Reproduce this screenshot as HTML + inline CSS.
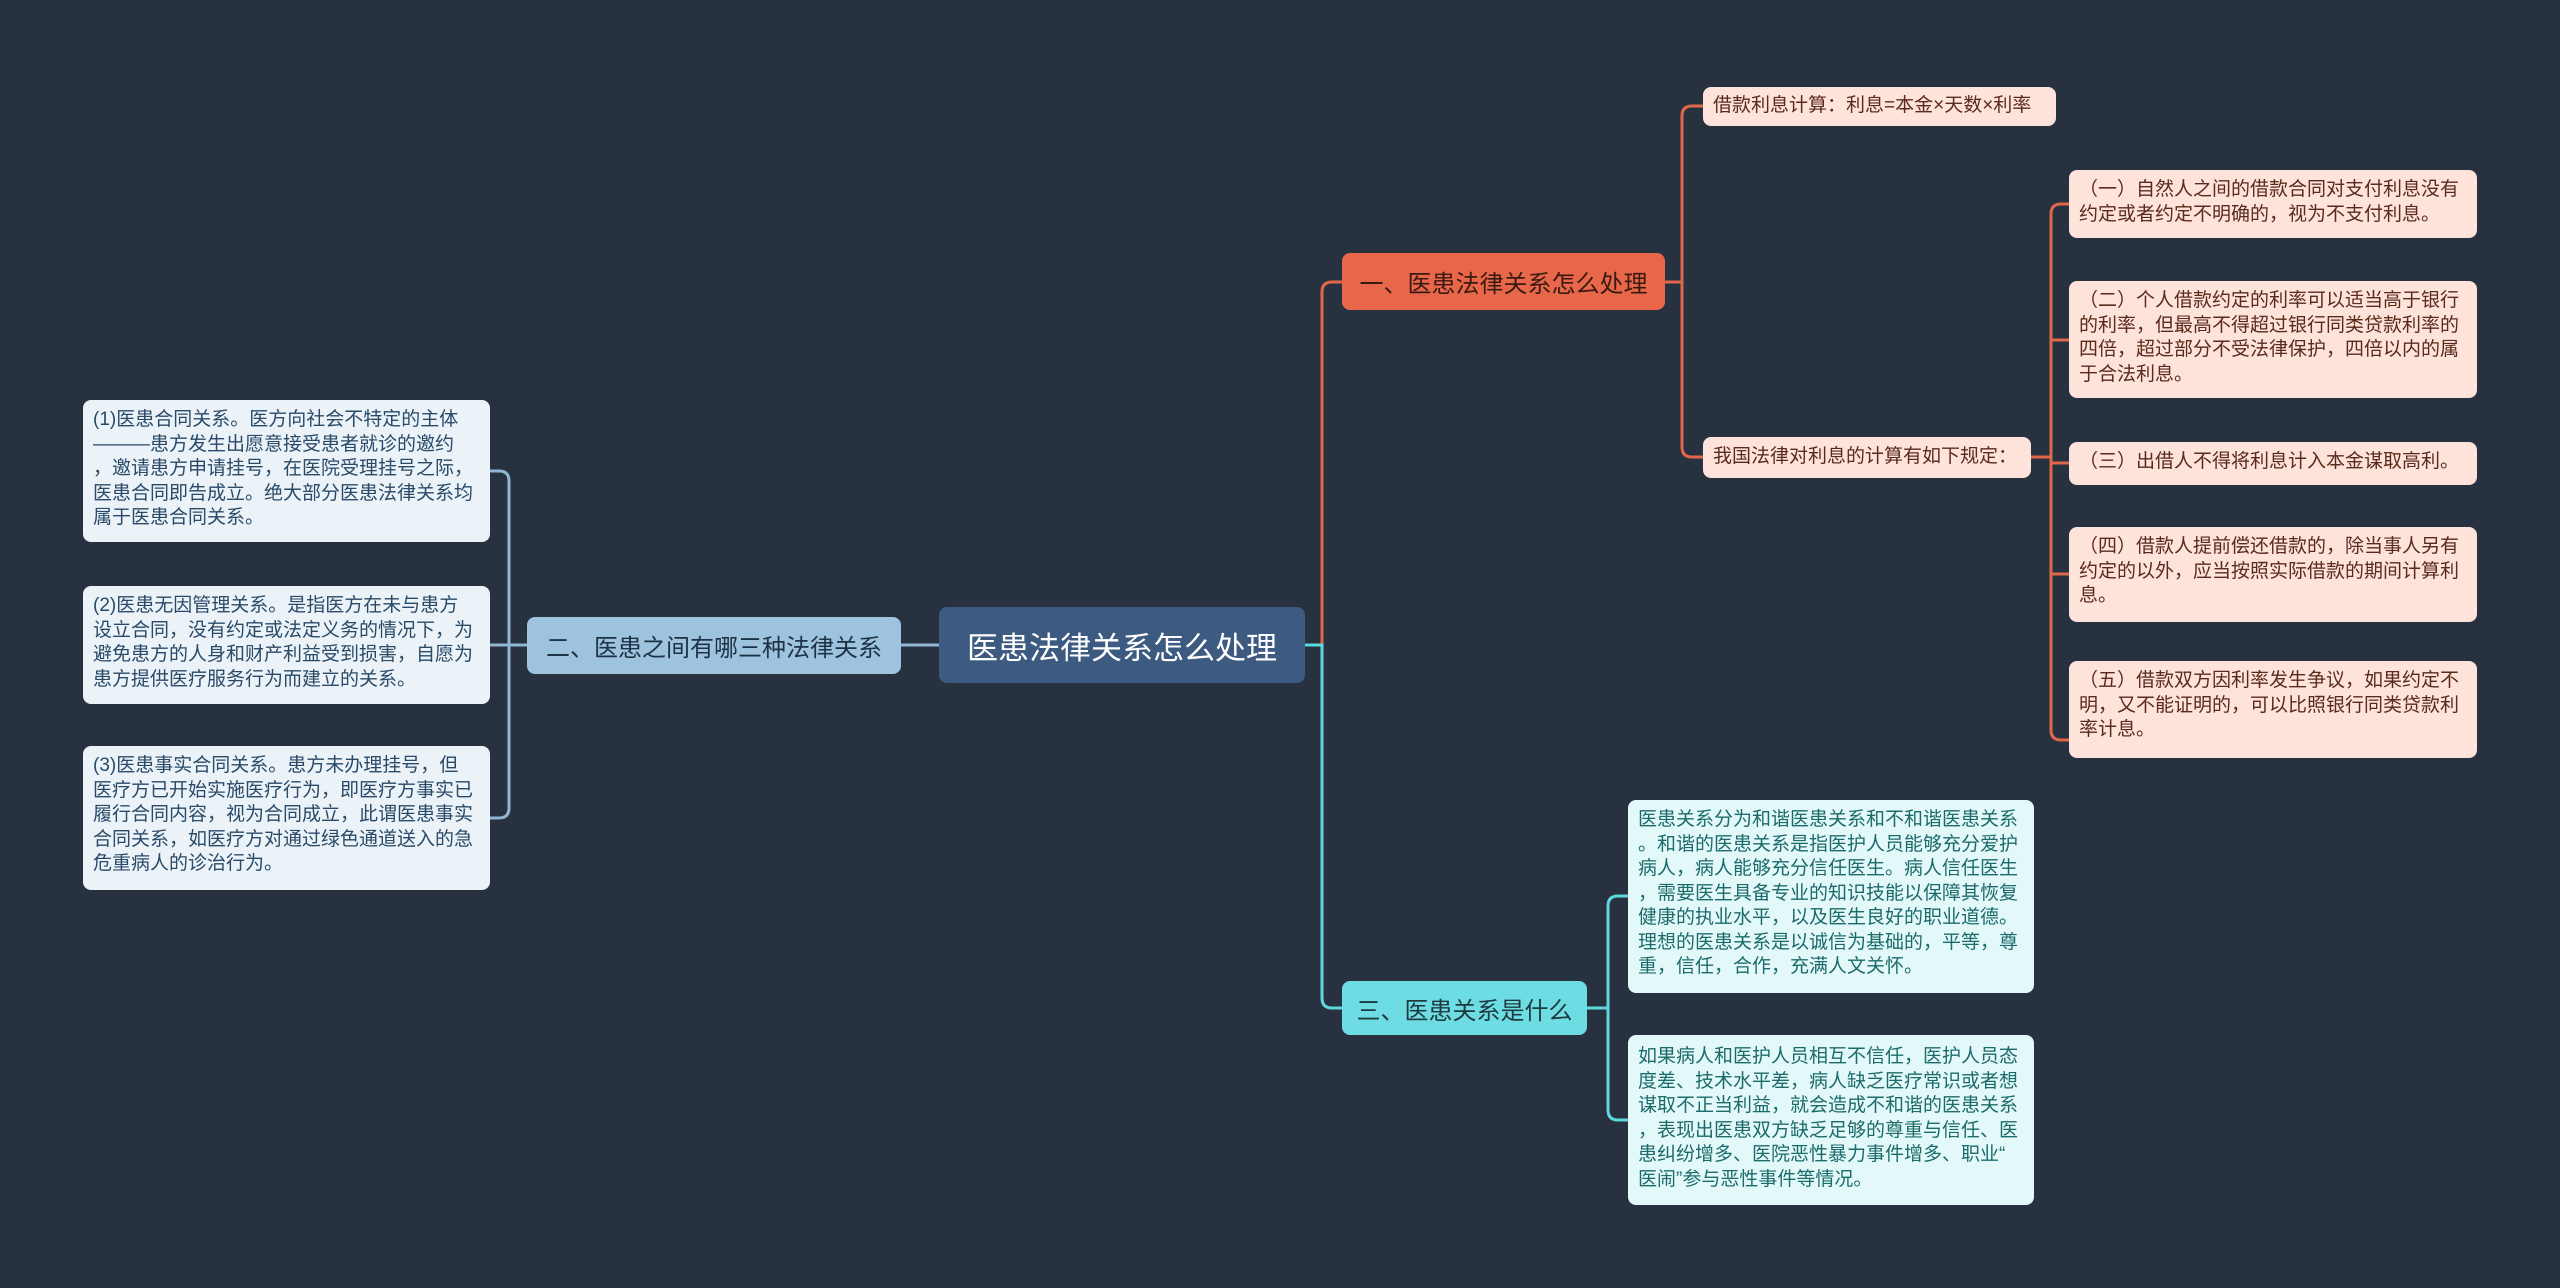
<!DOCTYPE html>
<html><head><meta charset="utf-8"><style>
html,body{margin:0;padding:0;background:#283140;}
body{width:2560px;height:1288px;position:relative;overflow:hidden;font-family:"Liberation Sans","Noto Sans CJK SC",sans-serif;}
.n{position:absolute;box-sizing:border-box;border-radius:8px;white-space:nowrap;}
.s{font-size:19px;line-height:24.5px;padding:8px 10px;}
.o{background:#fde3da;color:#5b2a1c;}
.b{background:#ebf3f9;color:#2a4a68;}
.c{background:#e3f8f9;color:#1c6b6b;}
.br{font-size:24px;display:flex;align-items:center;justify-content:center;}
svg{position:absolute;left:0;top:0;}
</style></head><body>
<svg width="2560" height="1288" fill="none" stroke-width="3">
<g stroke="#e0674a">
<path d="M1305,645 H1322 V292 Q1322,282 1332,282 H1342"/>
<path d="M1665,282 H1682 V116 Q1682,106 1692,106 H1703"/>
<path d="M1682,282 V447 Q1682,457 1692,457 H1703"/>
<path d="M2031,457 H2051"/>
<path d="M2051,214 Q2051,204 2061,204 H2069 M2051,214 V730 Q2051,740 2061,740 H2069"/>
<path d="M2051,340 H2069 M2051,463 H2069 M2051,574 H2069"/>
</g>
<g stroke="#8fb7d4">
<path d="M939,645 H901"/>
<path d="M527,645 H509"/>
<path d="M490,471 H499 Q509,471 509,481 V808 Q509,818 499,818 H490"/>
<path d="M490,645 H509"/>
</g>
<g stroke="#5ed6de">
<path d="M1305,645 H1322 V998 Q1322,1008 1332,1008 H1342"/>
<path d="M1587,1008 H1608"/>
<path d="M1628,896 H1618 Q1608,896 1608,906 V1110 Q1608,1120 1618,1120 H1628"/>
</g>
</svg>
<div class="n br" style="left:939px;top:607px;width:366px;height:76px;background:#3d5a80;color:#fff;font-size:31px;">医患法律关系怎么处理</div>
<div class="n br" style="left:1342px;top:253px;width:323px;height:57px;background:#e8674a;color:#3a1a10;">一、医患法律关系怎么处理</div>
<div class="n br" style="left:527px;top:617px;width:374px;height:57px;background:#9dc3de;color:#1e3246;">二、医患之间有哪三种法律关系</div>
<div class="n br" style="left:1342px;top:981px;width:245px;height:54px;background:#6ddde3;color:#1e3a40;">三、医患关系是什么</div>

<div class="n s o" style="left:1703px;top:87px;width:353px;height:39px;padding-top:7px;">借款利息计算：利息=本金×天数×利率</div>
<div class="n s o" style="left:1703px;top:437px;width:328px;height:41px;">我国法律对利息的计算有如下规定：</div>
<div class="n s o" style="left:2069px;top:170px;width:408px;height:68px;">（一）自然人之间的借款合同对支付利息没有<br>约定或者约定不明确的，视为不支付利息。</div>
<div class="n s o" style="left:2069px;top:281px;width:408px;height:117px;">（二）个人借款约定的利率可以适当高于银行<br>的利率，但最高不得超过银行同类贷款利率的<br>四倍，超过部分不受法律保护，四倍以内的属<br>于合法利息。</div>
<div class="n s o" style="left:2069px;top:442px;width:408px;height:43px;">（三）出借人不得将利息计入本金谋取高利。</div>
<div class="n s o" style="left:2069px;top:527px;width:408px;height:95px;">（四）借款人提前偿还借款的，除当事人另有<br>约定的以外，应当按照实际借款的期间计算利<br>息。</div>
<div class="n s o" style="left:2069px;top:661px;width:408px;height:97px;">（五）借款双方因利率发生争议，如果约定不<br>明，又不能证明的，可以比照银行同类贷款利<br>率计息。</div>

<div class="n s b" style="left:83px;top:400px;width:407px;height:142px;">(1)医患合同关系。医方向社会不特定的主体<br>———患方发生出愿意接受患者就诊的邀约<br>，邀请患方申请挂号，在医院受理挂号之际，<br>医患合同即告成立。绝大部分医患法律关系均<br>属于医患合同关系。</div>
<div class="n s b" style="left:83px;top:586px;width:407px;height:118px;">(2)医患无因管理关系。是指医方在未与患方<br>设立合同，没有约定或法定义务的情况下，为<br>避免患方的人身和财产利益受到损害，自愿为<br>患方提供医疗服务行为而建立的关系。</div>
<div class="n s b" style="left:83px;top:746px;width:407px;height:144px;">(3)医患事实合同关系。患方未办理挂号，但<br>医疗方已开始实施医疗行为，即医疗方事实已<br>履行合同内容，视为合同成立，此谓医患事实<br>合同关系，如医疗方对通过绿色通道送入的急<br>危重病人的诊治行为。</div>

<div class="n s c" style="left:1628px;top:800px;width:406px;height:193px;">医患关系分为和谐医患关系和不和谐医患关系<br>。和谐的医患关系是指医护人员能够充分爱护<br>病人，病人能够充分信任医生。病人信任医生<br>，需要医生具备专业的知识技能以保障其恢复<br>健康的执业水平，以及医生良好的职业道德。<br>理想的医患关系是以诚信为基础的，平等，尊<br>重，信任，合作，充满人文关怀。</div>
<div class="n s c" style="left:1628px;top:1035px;width:406px;height:170px;padding-top:10px;">如果病人和医护人员相互不信任，医护人员态<br>度差、技术水平差，病人缺乏医疗常识或者想<br>谋取不正当利益，就会造成不和谐的医患关系<br>，表现出医患双方缺乏足够的尊重与信任、医<br>患纠纷增多、医院恶性暴力事件增多、职业“<br>医闹”参与恶性事件等情况。</div>
</body></html>
